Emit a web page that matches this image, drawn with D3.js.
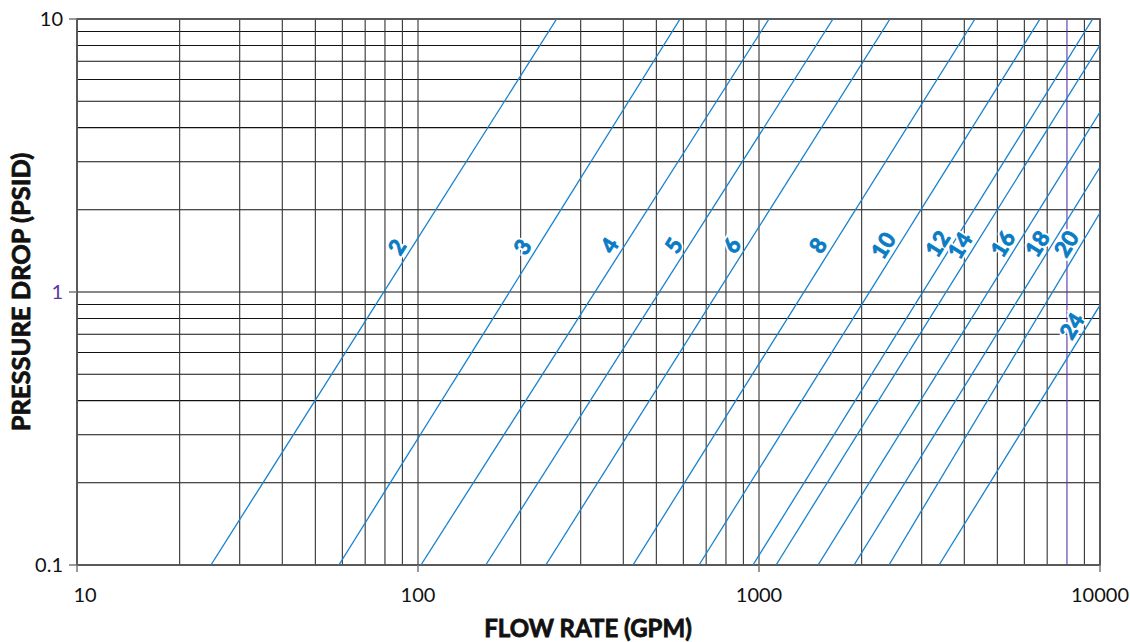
<html>
  <style type="text/css">
    body { margin: 0; background: #fff; }
    text { font-family: Lato, "Open Sans", sans-serif; }
  </style>
  <body>
    <script src="https://cdnjs.cloudflare.com/ajax/libs/d3/7.8.5/d3.min.js"></script>
    <script type="text/javascript">
      // line sizes and two points: [flow, psid]
      const lineNames = ["2", "3", "4", "5", "6", "8", "10", "12", "14", "16", "18", "20", "24"];
      const pointA = [
        [24.7, 0.1], [58.6, 0.1], [102, 0.1], [158, 0.1], [237, 0.1], [427, 0.1], [667, 0.1],
        [960, 0.1], [1122, 0.1], [1490, 0.1], [1900, 0.1], [2405, 0.1], [3373, 0.1]
      ];
      const pointB = [
        [255, 10], [587, 10], [1070, 10], [1648, 10], [2422, 10], [4300, 10], [6670, 10],
        [9520, 10], [10000, 8.03], [10000, 4.56], [10000, 2.87], [10000, 1.95], [10000, 0.895]
      ];
      // psid where each size label sits
      const labelAt = [1.46, 1.46, 1.48, 1.48, 1.48, 1.48, 1.48, 1.5, 1.48, 1.5, 1.5, 1.5, 0.75];

      const xTicks = [10, 100, 1000, 10000];
      const yTicks = [0.1, 1, 10];
      const xGrid = d3.range(1, 4).flatMap(e => d3.range(1, 10).map(m => m * Math.pow(10, e))).concat([10000]);
      const yGrid = d3.range(-1, 1).flatMap(e => d3.range(1, 10).map(m => +(m * Math.pow(10, e)).toPrecision(2))).concat([10]);

      const W = 1130, H = 642;
      const m = { left: 77, right: 30, top: 19, bottom: 77 };

      const svg = d3.select("body").append("svg").attr("width", W).attr("height", H);

      const x = d3.scaleLog().domain([10, 10000]).range([m.left, W - m.right]);
      const y = d3.scaleLog().domain([0.1, 10]).range([H - m.bottom, m.top]);

      svg.append("defs").append("clipPath").attr("id", "plot")
        .append("rect")
        .attr("x", x(10)).attr("y", y(10))
        .attr("width", x(10000) - x(10)).attr("height", y(0.1) - y(10));

      // grid
      svg.append("g").selectAll("line").data(yGrid).enter().append("line")
        .attr("x1", x(10)).attr("x2", x(10000))
        .attr("y1", d => y(d)).attr("y2", d => y(d))
        .attr("stroke", "#111").attr("stroke-width", 1.1);

      svg.append("g").selectAll("line").data(xGrid).enter().append("line")
        .attr("x1", d => x(d)).attr("x2", d => x(d))
        .attr("y1", y(0.1)).attr("y2", y(10))
        .attr("stroke", d => d === 8000 ? "#5a35a8" : "#333")
        .attr("stroke-width", 1.1);

      // frame
      svg.append("rect")
        .attr("x", x(10)).attr("y", y(10))
        .attr("width", x(10000) - x(10)).attr("height", y(0.1) - y(10))
        .attr("fill", "none").attr("stroke", "#555").attr("stroke-width", 1.8);

      // ticks
      svg.append("g").selectAll("line").data(yTicks).enter().append("line")
        .attr("x1", x(10) - 8).attr("x2", x(10))
        .attr("y1", d => y(d)).attr("y2", d => y(d))
        .attr("stroke", "#777").attr("stroke-width", 1.5);
      svg.append("g").selectAll("line").data(xTicks).enter().append("line")
        .attr("x1", d => x(d)).attr("x2", d => x(d))
        .attr("y1", y(0.1)).attr("y2", y(0.1) + 7)
        .attr("stroke", "#777").attr("stroke-width", 1.5);

      // flow lines
      const lineGen = d3.line().x(d => x(d[0])).y(d => y(d[1]));
      svg.append("g").attr("clip-path", "url(#plot)")
        .selectAll("path").data(lineNames).enter().append("path")
        .attr("d", (d, i) => lineGen([pointA[i], pointB[i]]))
        .attr("fill", "none").attr("stroke", "#1a82cc").attr("stroke-width", 1.3);

      // size labels
      function flowAt(i, p) {
        const [q1, p1] = pointA[i], [q2, p2] = pointB[i];
        const t = (Math.log10(p) - Math.log10(p1)) / (Math.log10(p2) - Math.log10(p1));
        return Math.pow(10, Math.log10(q1) + t * (Math.log10(q2) - Math.log10(q1)));
      }
      const labelPos = (d, i) => `translate(${x(flowAt(i, labelAt[i])) - 15}, ${y(labelAt[i])}) rotate(-58)`;
      // white halo first, then the heavy blue number on top
      svg.append("g").selectAll("text").data(lineNames).enter().append("text")
        .attr("transform", labelPos)
        .attr("text-anchor", "middle").attr("dy", "0.35em")
        .attr("font-size", 22).attr("font-weight", "bold")
        .attr("fill", "#fff").attr("stroke", "#fff").attr("stroke-width", 4.5)
        .text(d => d);
      svg.append("g").selectAll("text").data(lineNames).enter().append("text")
        .attr("transform", labelPos)
        .attr("text-anchor", "middle").attr("dy", "0.35em")
        .attr("font-size", 22).attr("font-weight", "bold")
        .attr("fill", "#0a7cc4").attr("stroke", "#0a7cc4").attr("stroke-width", 0.9)
        .text(d => d);

      // tick labels
      svg.append("g").selectAll("text").data(yTicks).enter().append("text")
        .attr("x", x(10) - 14).attr("y", d => y(d)).attr("dy", "0.35em")
        .attr("text-anchor", "end").attr("font-size", 20)
        .attr("fill", d => d === 1 ? "#5a35a8" : "#111")
        .text(d => d);
      svg.append("g").selectAll("text").data(xTicks).enter().append("text")
        .attr("x", (d, i) => x(d) + (i === 0 ? 8 : 0)).attr("y", y(0.1) + 37)
        .attr("text-anchor", "middle").attr("font-size", 20).attr("fill", "#111")
        .text(d => d);

      // axis titles
      svg.append("text")
        .attr("x", 588).attr("y", 637)
        .attr("text-anchor", "middle").attr("font-size", 24).attr("font-weight", "bold")
        .attr("fill", "#111").attr("stroke", "#111").attr("stroke-width", 0.8)
        .text("FLOW RATE (GPM)");
      svg.append("text")
        .attr("transform", `translate(30, ${(y(0.1) + y(10)) / 2}) rotate(-90)`)
        .attr("text-anchor", "middle").attr("font-size", 25.5).attr("font-weight", "bold")
        .attr("fill", "#111").attr("stroke", "#111").attr("stroke-width", 0.8)
        .text("PRESSURE DROP (PSID)");
    </script>
  </body>
</html>
